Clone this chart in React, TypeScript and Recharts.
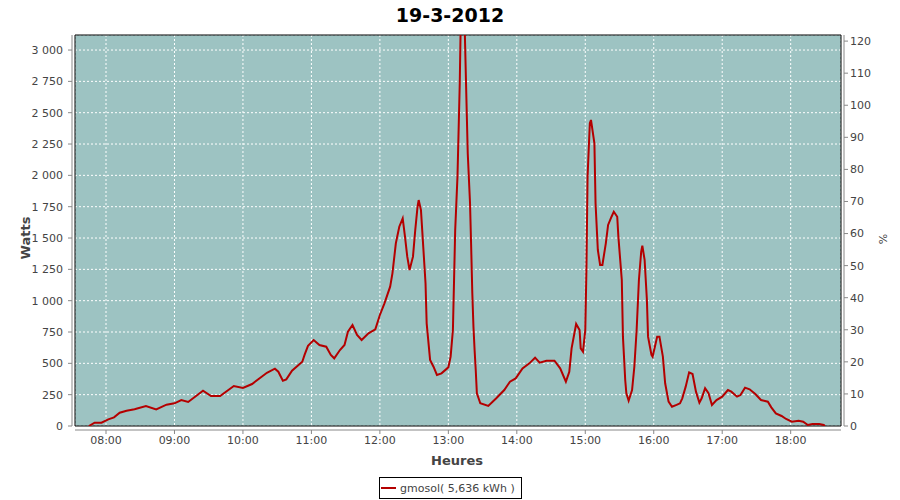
import React from 'react';
import { LineChart, Line, XAxis, YAxis, CartesianGrid, ReferenceArea } from 'recharts';

// Sample times (HH:MM) and power in watts
const times = [
  '07:45', '07:50', '07:56', '08:02', '08:07', '08:12', '08:18', '08:25', '08:35', '08:44',
  '08:53', '09:00', '09:06', '09:12', '09:25', '09:32', '09:40', '09:52', '10:00', '10:08',
  '10:21', '10:28', '10:31', '10:35', '10:38', '10:43', '10:52', '10:54', '10:57', '11:02',
  '11:07', '11:13', '11:17', '11:20', '11:25', '11:29', '11:32', '11:36', '11:40', '11:44',
  '11:50', '11:56', '12:00', '12:04', '12:09', '12:11', '12:14', '12:17', '12:20', '12:22',
  '12:24', '12:26', '12:29', '12:31', '12:33', '12:34', '12:36', '12:38', '12:40', '12:41',
  '12:44', '12:47', '12:50', '12:54', '13:00', '13:02', '13:04', '13:05', '13:06', '13:08',
  '13:10', '13:11', '13:13', '13:14', '13:16', '13:17', '13:19', '13:20', '13:21', '13:22',
  '13:23', '13:24', '13:25', '13:28', '13:35', '13:42', '13:49', '13:54', '13:59', '14:05',
  '14:11', '14:16', '14:20', '14:26', '14:33', '14:38', '14:43', '14:46', '14:48', '14:52',
  '14:55', '14:56', '14:58', '15:00', '15:01', '15:02', '15:04', '15:05', '15:08', '15:09',
  '15:11', '15:13', '15:15', '15:18', '15:20', '15:23', '15:25', '15:28', '15:29', '15:32',
  '15:33', '15:35', '15:36', '15:38', '15:41', '15:43', '15:45', '15:47', '15:49', '15:50',
  '15:52', '15:54', '15:55', '15:58', '15:59', '16:01', '16:03', '16:05', '16:08', '16:10',
  '16:13', '16:16', '16:20', '16:23', '16:25', '16:28', '16:31', '16:34', '16:37', '16:40',
  '16:42', '16:45', '16:48', '16:51', '16:55', '17:00', '17:05', '17:08', '17:13', '17:16',
  '17:20', '17:24', '17:29', '17:34', '17:40', '17:43', '17:47', '17:52', '17:56', '18:01',
  '18:07', '18:11', '18:15', '18:19', '18:25', '18:29', '18:30',
];

const watts = [
  0, 26, 26, 53, 69, 106, 122, 133, 160, 133,
  170, 181, 207, 192, 282, 239, 239, 319, 303, 335,
  425, 457, 433, 362, 372, 441, 513, 567, 640, 686,
  646, 633, 567, 540, 606, 646, 753, 806, 726, 686,
  740, 772, 886, 979, 1112, 1218, 1458, 1590, 1657, 1511,
  1351, 1245, 1351, 1564, 1750, 1803, 1723, 1431, 1139, 819,
  527, 473, 407, 420, 468, 553, 766, 1165, 1564, 1990,
  2735, 3300, 3500, 3300, 2548, 2176, 1777, 1431, 1059, 792,
  606, 447, 261, 181, 160, 221, 287, 354, 380, 460,
  500, 545, 505, 521, 521, 460, 354, 433, 620, 814,
  766, 620, 593, 766, 1245, 1990, 2416, 2442, 2256, 1777,
  1405, 1285, 1285, 1458, 1604, 1670, 1710, 1670, 1511, 1165,
  713, 367, 261, 202, 287, 473, 766, 1165, 1391, 1439,
  1325, 1005, 713, 567, 553, 633, 713, 713, 553, 341,
  194, 154, 168, 181, 221, 314, 428, 415, 274, 186,
  221, 301, 261, 168, 207, 234, 287, 274, 234, 247,
  306, 293, 255, 207, 194, 149, 101, 80, 56, 34,
  42, 34, 8, 16, 16, 8, 0,
];

const wattTicks = [0, 250, 500, 750, 1000, 1250, 1500, 1750, 2000, 2250, 2500, 2750, 3000];
const percentTicks = [0, 10, 20, 30, 40, 50, 60, 70, 80, 90, 100, 110, 120];
const hourTickLabels = ['08:00', '09:00', '10:00', '11:00', '12:00', '13:00', '14:00', '15:00', '16:00', '17:00', '18:00'];

const toHours = (s: string) => {
  const [h, m] = s.split(':').map(Number);
  return h + m / 60;
};

const data = times.map((t, i) => ({ h: toHours(t), w: watts[i] }));
const hourTicks = hourTickLabels.map(toHours);

const X_DOMAIN: [number, number] = [7.547, 18.735];
const W_DOMAIN: [number, number] = [0, 3120];
const P_DOMAIN: [number, number] = [0, 121.9];

const fmtWatts = (n: number) =>
  n >= 1000 ? `${Math.floor(n / 1000)} ${String(n % 1000).padStart(3, '0')}` : String(n);
const fmtHour = (v: number) => {
  const h = Math.floor(v + 1e-6);
  const m = Math.round((v - h) * 60);
  return `${String(h).padStart(2, '0')}:${String(m).padStart(2, '0')}`;
};

const FONT = '"DejaVu Sans", Verdana, sans-serif';
const tickStyle = { fill: '#444', fontSize: 11, fontFamily: FONT };

export default function App() {
  return (
    <div style={{ position: 'absolute', left: 0, top: 0, width: 900, height: 500, background: '#fff' }}>
      <LineChart width={900} height={500} data={data} margin={{ top: 35, right: 0, bottom: 44, left: 0 }}>
        <CartesianGrid
          yAxisId="left"
          fill="#9dc3c2"
          fillOpacity={1}
          stroke="#ffffff"
          strokeDasharray="2 2"
        />
        <XAxis
          dataKey="h"
          type="number"
          domain={X_DOMAIN}
          ticks={hourTicks}
          tickFormatter={fmtHour}
          allowDataOverflow
          height={30}
          tickSize={4}
          tickMargin={6}
          tick={tickStyle}
          axisLine={{ stroke: '#888', transform: 'translate(0,4)' }}
          tickLine={{ stroke: '#888', transform: 'translate(0,4)' }}
        />
        <YAxis
          yAxisId="left"
          orientation="left"
          type="number"
          domain={W_DOMAIN}
          ticks={wattTicks}
          tickFormatter={fmtWatts}
          allowDataOverflow
          width={75}
          tickSize={4}
          tickMargin={8}
          tick={tickStyle}
          axisLine={{ stroke: '#888', transform: 'translate(-3,0)' }}
          tickLine={{ stroke: '#888', transform: 'translate(-3,0)' }}
        />
        <YAxis
          yAxisId="right"
          orientation="right"
          type="number"
          domain={P_DOMAIN}
          ticks={percentTicks}
          allowDataOverflow
          width={59}
          tickSize={4}
          tickMargin={5}
          tick={tickStyle}
          axisLine={{ stroke: '#888', transform: 'translate(3,0)' }}
          tickLine={{ stroke: '#888', transform: 'translate(3,0)' }}
        />
        <Line
          yAxisId="left"
          type="linear"
          dataKey="w"
          stroke="#b40000"
          strokeWidth={2}
          dot={false}
          isAnimationActive={false}
        />
        <ReferenceArea
          yAxisId="left"
          x1={X_DOMAIN[0]}
          x2={X_DOMAIN[1]}
          y1={W_DOMAIN[0]}
          y2={W_DOMAIN[1]}
          fill="none"
          stroke="#000"
          strokeWidth={1}
          ifOverflow="visible"
        />
      </LineChart>
      <svg
        width={900}
        height={500}
        style={{ position: 'absolute', left: 0, top: 0, pointerEvents: 'none' }}
        fontFamily={FONT}
      >
        <text x={450} y={22} textAnchor="middle" fontSize={19} fontWeight="bold" fill="#000">
          19-3-2012
        </text>
        <text
          x={0}
          y={0}
          transform="translate(30,238) rotate(-90)"
          textAnchor="middle"
          fontSize={13}
          fontWeight="bold"
          fill="#444"
        >
          Watts
        </text>
        <text
          x={0}
          y={0}
          transform="translate(887,239) rotate(-90)"
          textAnchor="middle"
          fontSize={11}
          fill="#444"
        >
          %
        </text>
        <text x={457} y={465} textAnchor="middle" fontSize={13} fontWeight="bold" fill="#444">
          Heures
        </text>
        <rect x={379.5} y={477.5} width={142} height={21} fill="#fff" stroke="#000" strokeWidth={1} />
        <line x1={381} y1={488} x2={396} y2={488} stroke="#b40000" strokeWidth={2} />
        <text x={400} y={492} fontSize={11} fill="#444">
          gmosol( 5,636 kWh )
        </text>
      </svg>
    </div>
  );
}
